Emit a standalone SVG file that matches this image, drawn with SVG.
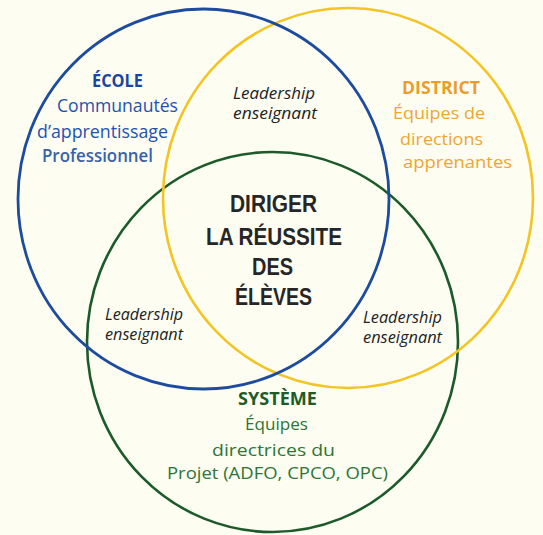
<svg xmlns="http://www.w3.org/2000/svg" width="543" height="535" viewBox="0 0 543 535">
<style>
.c{fill:none}
text{font-family:"Open Sans","Liberation Sans",sans-serif;text-anchor:middle}
.lead{font-style:italic;font-size:16px;fill:#222}
.ctr{font-family:"Liberation Sans","Open Sans",sans-serif;font-weight:bold;font-size:24px;fill:#262626}
.blue{fill:#1f52b0;font-size:17.5px}
.org{fill:#f0a531;font-size:17px}
.grn{fill:#2c7535;font-size:17px}
</style>
<rect width="543" height="535" fill="#fdfdf2"/>
<g id="circles">
<ellipse id="system" class="c" cx="272.5" cy="342" rx="185.5" ry="190" stroke="#1c5a2a" stroke-width="2.6"/>
<ellipse id="district" class="c" cx="348" cy="198" rx="185" ry="190" stroke="#f2c525" stroke-width="2.6"/>
<ellipse id="ecole" class="c" cx="203.5" cy="199" rx="185.5" ry="190" stroke="#1d4c9e" stroke-width="2.8"/>
</g>
<g id="label-ecole">
<text x="117.5" y="87" class="blue" style="font-weight:bold;fill:#1a46a0" textLength="51" lengthAdjust="spacingAndGlyphs">ÉCOLE</text>
<text x="117.5" y="112" class="blue" textLength="121" lengthAdjust="spacingAndGlyphs">Communautés</text>
<text x="102.5" y="138" class="blue" textLength="131" lengthAdjust="spacingAndGlyphs">d’apprentissage</text>
<text x="97.5" y="162" class="blue" style="font-weight:600;fill:#3a62a8" textLength="111" lengthAdjust="spacingAndGlyphs">Professionnel</text>
</g>
<g id="label-district">
<text x="441" y="94" class="org" style="font-weight:bold;fill:#e99d2c" textLength="78" lengthAdjust="spacingAndGlyphs">DISTRICT</text>
<text x="439" y="119" class="org" textLength="92" lengthAdjust="spacingAndGlyphs">Équipes de</text>
<text x="441.5" y="145" class="org" textLength="83" lengthAdjust="spacingAndGlyphs">directions</text>
<text x="457.5" y="168" class="org" textLength="109" lengthAdjust="spacingAndGlyphs">apprenantes</text>
</g>
<g id="label-systeme">
<text x="277.5" y="405" class="grn" style="font-weight:bold;fill:#1d5c28" textLength="79" lengthAdjust="spacingAndGlyphs">SYSTÈME</text>
<text x="276.5" y="430" class="grn" textLength="63" lengthAdjust="spacingAndGlyphs">Équipes</text>
<text x="273.5" y="456" class="grn" textLength="123" lengthAdjust="spacingAndGlyphs">directrices du</text>
<text x="277.5" y="479" class="grn" textLength="221" lengthAdjust="spacingAndGlyphs">Projet (ADFO, CPCO, OPC)</text>
</g>
<g id="label-center">
<text x="273.5" y="212" class="ctr" textLength="87" lengthAdjust="spacingAndGlyphs">DIRIGER</text>
<text x="274" y="245" class="ctr" textLength="136" lengthAdjust="spacingAndGlyphs">LA RÉUSSITE</text>
<text x="272.5" y="275" class="ctr" textLength="41" lengthAdjust="spacingAndGlyphs">DES</text>
<text x="273.5" y="305" class="ctr" textLength="77" lengthAdjust="spacingAndGlyphs">ÉLÈVES</text>
</g>
<g id="lead-top">
<text x="274" y="99" class="lead" textLength="82" lengthAdjust="spacingAndGlyphs">Leadership</text>
<text x="275" y="119" class="lead" textLength="84" lengthAdjust="spacingAndGlyphs">enseignant</text>
</g>
<g id="lead-left">
<text x="144" y="320" class="lead" textLength="78" lengthAdjust="spacingAndGlyphs">Leadership</text>
<text x="144" y="340" class="lead" textLength="78" lengthAdjust="spacingAndGlyphs">enseignant</text>
</g>
<g id="lead-right">
<text x="402.5" y="323" class="lead" textLength="79" lengthAdjust="spacingAndGlyphs">Leadership</text>
<text x="402.5" y="343" class="lead" textLength="79" lengthAdjust="spacingAndGlyphs">enseignant</text>
</g>
</svg>
